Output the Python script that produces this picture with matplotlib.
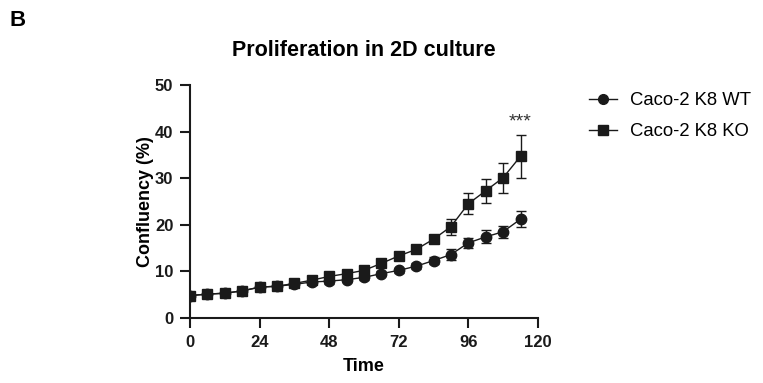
import numpy as np
import matplotlib
matplotlib.use("Agg")
import matplotlib.pyplot as plt
from matplotlib.lines import Line2D

plt.rcParams['font.family'] = ['Liberation Sans', 'DejaVu Sans']

# time points (h)
time = [0, 6, 12, 18, 24, 30, 36, 42, 48, 54, 60, 66, 72, 78, 84, 90, 96, 102, 108, 114]

wt_mean = [4.8, 5.1, 5.3, 5.8, 6.6, 6.8, 7.2, 7.7, 7.9, 8.2, 8.7, 9.5, 10.2, 11.1, 12.3,
           13.6, 16.1, 17.4, 18.5, 21.2]
wt_err = [0.3, 0.3, 0.3, 0.3, 0.3, 0.3, 0.4, 0.5, 0.7, 0.6, 0.6, 0.6, 0.6, 0.6, 0.7,
          1.2, 1.1, 1.4, 1.3, 1.7]

ko_mean = [4.8, 5.1, 5.3, 5.8, 6.6, 6.8, 7.4, 8.1, 8.9, 9.5, 10.2, 11.7, 13.3, 14.7, 16.9,
           19.6, 24.5, 27.3, 30.1, 34.7]
ko_err = [0.3, 0.3, 0.3, 0.3, 0.3, 0.3, 0.4, 0.4, 0.5, 0.5, 0.5, 0.5, 0.5, 0.6, 0.8,
          1.7, 2.3, 2.6, 3.2, 4.6]

labels = ["Caco-2 K8 WT", "Caco-2 K8 KO"]
xticks = [0, 24, 48, 72, 96, 120]
yticks = [0, 10, 20, 30, 40, 50]

col = '#1a1a1a'

fig = plt.figure(figsize=(7.63, 3.83), dpi=100)
ax = fig.add_axes([0.249, 0.170, 0.456, 0.608])

ax.errorbar(time, wt_mean, yerr=wt_err, color=col, marker='o', markersize=7.5,
            linewidth=1, elinewidth=1, capsize=3.5, capthick=1)
ax.errorbar(time, ko_mean, yerr=ko_err, color=col, marker='s', markersize=7.5,
            linewidth=1, elinewidth=1, capsize=3.5, capthick=1)

# significance mark above last KO point
ax.text(114, 40.3, "***", ha='center', va='bottom', fontsize=14, color='#333333')

ax.set_xlim(0, 120)
ax.set_ylim(0, 50)
ax.set_xticks(xticks)
ax.set_yticks(yticks)
for s in ['top', 'right']:
	ax.spines[s].set_visible(False)
for s in ['left', 'bottom']:
	ax.spines[s].set_linewidth(1.5)
	ax.spines[s].set_color(col)
ax.tick_params(width=1.5, length=7, colors=col, labelsize=12, pad=5)
for lbl in ax.get_xticklabels() + ax.get_yticklabels():
	lbl.set_fontweight('bold')

ax.set_xlabel("Time", fontsize=13, fontweight='bold', labelpad=6)
ax.set_ylabel("Confluency (%)", fontsize=13, fontweight='bold', labelpad=1)
ax.set_title("Proliferation in 2D culture", fontsize=15.5, fontweight='bold', pad=21)

# legend without error bars
handles = [Line2D([], [], color=col, marker='o', markersize=7, linewidth=1),
           Line2D([], [], color=col, marker='s', markersize=7, linewidth=1)]
ax.legend(handles, labels, loc='upper left', bbox_to_anchor=(1.10, 1.04), frameon=False,
          fontsize=13.3, handlelength=1.5, handletextpad=0.7, labelspacing=0.75)

fig.text(0.013, 0.975, "B", fontsize=16, fontweight='bold', va='top', ha='left')

fig.savefig("out.png", dpi=100)
